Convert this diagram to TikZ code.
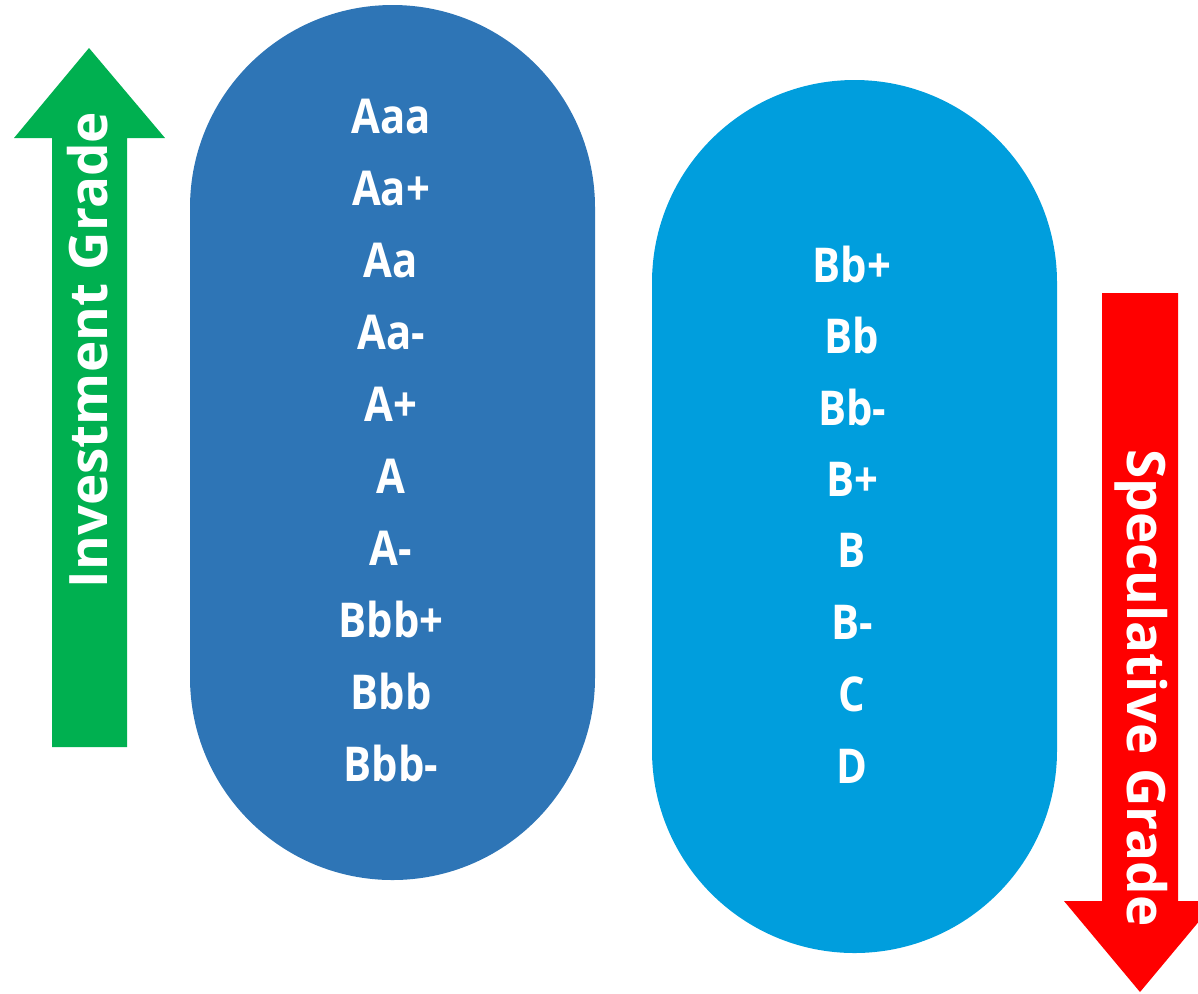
\documentclass[tikz,border=0pt]{standalone}
\usepackage{fontspec}
\setmainfont{Open Sans}
\newfontfamily\gradefont[FakeStretch=0.87]{Open Sans}
\definecolor{darkpill}{HTML}{2E75B6}
\definecolor{lightpill}{HTML}{009EDD}
\definecolor{upgreen}{HTML}{00B050}
\definecolor{downred}{HTML}{FF0000}
\tikzset{
  grade/.style={text=white, font=\gradefont\fontsize{24}{28}\selectfont\bfseries, inner sep=0pt, anchor=center},
  axislabel/.style={text=white, font=\fontsize{26.5}{30}\selectfont\bfseries, inner sep=0pt},
  pill/.style={rounded corners=101.25pt}
}
\begin{document}
\begin{tikzpicture}[x=0.5pt,y=-0.5pt]
\useasboundingbox (0,0) rectangle (1198,993);

% upward arrow: investment grade
\fill[upgreen] (52,747) -- (52,138) -- (14,138) -- (89,48) -- (165,138) -- (127,138) -- (127,747) -- cycle;
\node[axislabel, rotate=90] (inv) at (88,350) {Investment Grade};

% downward arrow: speculative grade
\fill[downred] (1102,293) -- (1102,901) -- (1064,901) -- (1140,992) -- (1216,901) -- (1178,901) -- (1178,293) -- cycle;
\node[axislabel, rotate=-90] (spec) at (1141,688) {Speculative Grade};

% rating pills
\fill[darkpill, pill] (190,5) rectangle (595,880);
\fill[lightpill, pill] (652,80) rectangle (1057,953);

% investment-grade ratings
\foreach \lab [count=\i from 0] in {Aaa,Aa+,Aa,Aa-,A+,A,A-,Bbb+,Bbb,Bbb-}
  \node[grade] (inv\i) at (391,117+71.8*\i) {\lab};

% speculative-grade ratings
\foreach \lab [count=\i from 0] in {Bb+,Bb,Bb-,B+,B,B-,C,D}
  \node[grade] (spec\i) at (852,264+71.7*\i) {\lab};
\end{tikzpicture}
\end{document}
